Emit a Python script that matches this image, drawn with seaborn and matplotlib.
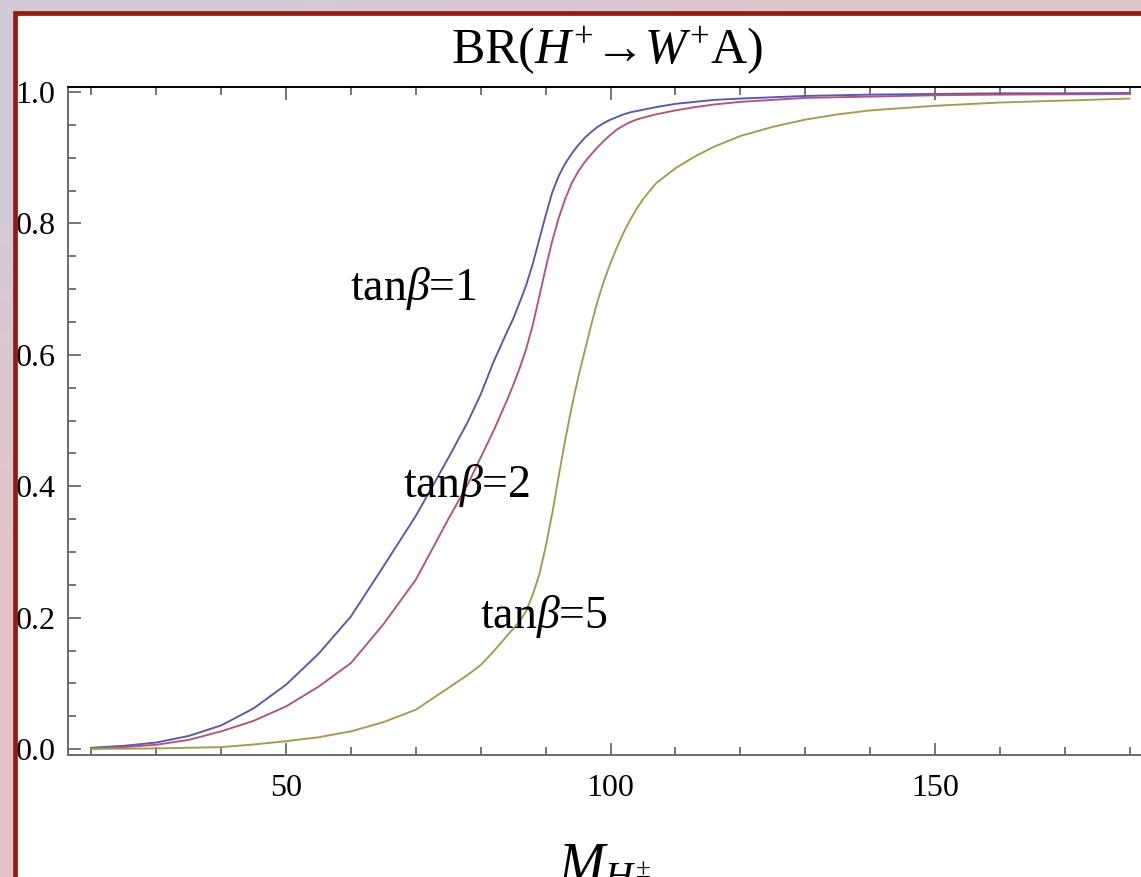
import numpy as np
import pandas as pd
import matplotlib
matplotlib.use("Agg")
import matplotlib.pyplot as plt
import seaborn as sns
from matplotlib.patches import Rectangle
from matplotlib.ticker import MultipleLocator

# ---------------- data ----------------
mass = [20, 25, 30, 35, 40, 45, 50, 55, 60, 65, 70, 75, 78, 80, 82, 84, 85, 86, 87, 88,
        89, 90, 91, 92, 93, 94, 95, 96, 97, 98, 99, 100, 101, 102, 103, 104, 105, 107,
        110, 113, 116, 120, 125, 130, 135, 140, 150, 160, 170, 180]
br_tb1 = [0.002, 0.005, 0.010, 0.020, 0.036, 0.062, 0.098, 0.145, 0.202, 0.278, 0.355,
          0.443, 0.498, 0.540, 0.590, 0.634, 0.655, 0.680, 0.706, 0.738, 0.775, 0.812,
          0.847, 0.872, 0.891, 0.906, 0.919, 0.930, 0.939, 0.947, 0.953, 0.958, 0.962,
          0.966, 0.969, 0.971, 0.973, 0.977, 0.982, 0.985, 0.988, 0.990, 0.992, 0.994,
          0.995, 0.996, 0.997, 0.998, 0.998, 0.9985]
br_tb2 = [0.001, 0.003, 0.0066, 0.014, 0.027, 0.043, 0.065, 0.095, 0.131, 0.190, 0.258,
          0.350, 0.403, 0.444, 0.485, 0.530, 0.554, 0.580, 0.609, 0.645, 0.688, 0.732,
          0.773, 0.808, 0.837, 0.861, 0.879, 0.893, 0.905, 0.916, 0.926, 0.935, 0.943,
          0.949, 0.954, 0.958, 0.961, 0.966, 0.972, 0.977, 0.981, 0.985, 0.988, 0.991,
          0.992, 0.993, 0.995, 0.996, 0.9965, 0.997]
br_tb5 = [0.0003, 0.0006, 0.001, 0.002, 0.003, 0.007, 0.012, 0.018, 0.027, 0.041, 0.060,
          0.093, 0.113, 0.128, 0.149, 0.172, 0.183, 0.195, 0.210, 0.235, 0.265, 0.308,
          0.358, 0.415, 0.470, 0.520, 0.565, 0.605, 0.645, 0.682, 0.713, 0.740, 0.764,
          0.786, 0.805, 0.822, 0.837, 0.861, 0.884, 0.902, 0.917, 0.933, 0.947, 0.958,
          0.966, 0.972, 0.979, 0.984, 0.987, 0.990]
series_names = ["tanβ=1", "tanβ=2", "tanβ=5"]
series_colors = ["#5456b8", "#b8507e", "#a8994a"]
label_texts = [r"tan$\beta$=1", r"tan$\beta$=2", r"tan$\beta$=5"]
label_pos = [(59.9, 0.684), (68.0, 0.384), (79.9, 0.185)]
x_major = [50, 100, 150]
y_major = [0.0, 0.2, 0.4, 0.6, 0.8, 1.0]

df = pd.DataFrame({
    "mass": mass * 3,
    "br": br_tb1 + br_tb2 + br_tb5,
    "tanb": [series_names[0]] * len(mass) + [series_names[1]] * len(mass)
            + [series_names[2]] * len(mass),
})

# ---------------- style ----------------
sns.set_style("ticks")
plt.rcParams["font.family"] = ["Liberation Serif", "DejaVu Serif"]
plt.rcParams["text.color"] = "black"
plt.rcParams["mathtext.fontset"] = "custom"
plt.rcParams["mathtext.rm"] = "Liberation Serif"
plt.rcParams["mathtext.it"] = "Liberation Serif:italic"
plt.rcParams["mathtext.bf"] = "Liberation Serif:bold"

W, H = 1141, 877
fig = plt.figure(figsize=(W / 100, H / 100), dpi=100)

# background gradient + white panel
bg = fig.add_axes([0, 0, 1, 1], zorder=-10)
grad = np.array([[[0.83, 0.79, 0.84], [0.87, 0.77, 0.79]],
                 [[0.91, 0.76, 0.77], [0.91, 0.76, 0.77]]])
bg.imshow(grad, extent=[0, 1, 0, 1], aspect="auto", interpolation="bilinear",
          origin="upper")
bg.set_xlim(0, 1)
bg.set_ylim(0, 1)
bg.axis("off")
bg.add_patch(Rectangle((14.5 / W, -0.05), 1.2, (H - 12.5) / H + 0.05,
                       facecolor="white", edgecolor="none",
                       transform=bg.transAxes))

# main axes (right spine just beyond the picture edge)
ax = fig.add_axes([68 / W, (H - 755) / H, (1143 - 68) / W, (755 - 87) / H])
ax.set_facecolor("white")
sns.lineplot(data=df, x="mass", y="br", hue="tanb", palette=series_colors,
             legend=False, ax=ax, linewidth=1.35)

ax.set_xlim(16.4, 16.4 + (1143 - 68) / 6.49)
ax.set_ylim(-0.009, 1.0076)
ax.set_xticks(x_major)
ax.set_yticks(y_major)
ax.set_yticklabels([f"{v:.1f}" for v in y_major])
ax.xaxis.set_minor_locator(MultipleLocator(10))
ax.yaxis.set_minor_locator(MultipleLocator(0.05))
ax.set_xlabel("")
ax.set_ylabel("")

tick_col = "#6a6a6a"
ax.tick_params(which="both", direction="in", color=tick_col, width=1.3,
               top=True, right=False, labelsize=23, labelcolor="black")
ax.tick_params(which="major", length=9)
ax.tick_params(which="minor", length=5.5)
ax.tick_params(axis="x", which="major", pad=14)
ax.tick_params(axis="y", which="major", pad=9)
for s in ["left", "bottom", "right"]:
    ax.spines[s].set_color(tick_col)
    ax.spines[s].set_linewidth(1.4)
ax.spines["top"].set_color("black")
ax.spines["top"].set_linewidth(1.4)

for txt, (x, y) in zip(label_texts, label_pos):
    ax.text(x, y, txt, fontsize=33, ha="left", va="baseline", color="black")

# title and x label
fig.text(607 / W, (H - 63) / H, r"BR($H^{+}$→$W^{+}$A)", fontsize=36,
         ha="center", va="baseline", color="black")
fig.text(605 / W, (H - 882) / H, r"$M_{H^{\pm}}$", fontsize=40,
         ha="center", va="baseline", color="black")

# dark red frame on top
fig.add_artist(Rectangle((14.5 / W, -0.05), 1.2, (H - 12.5) / H + 0.05,
                         facecolor="none", edgecolor="#9e1608", linewidth=3.4,
                         transform=fig.transFigure, zorder=20))

fig.savefig("out.png", dpi=100)
